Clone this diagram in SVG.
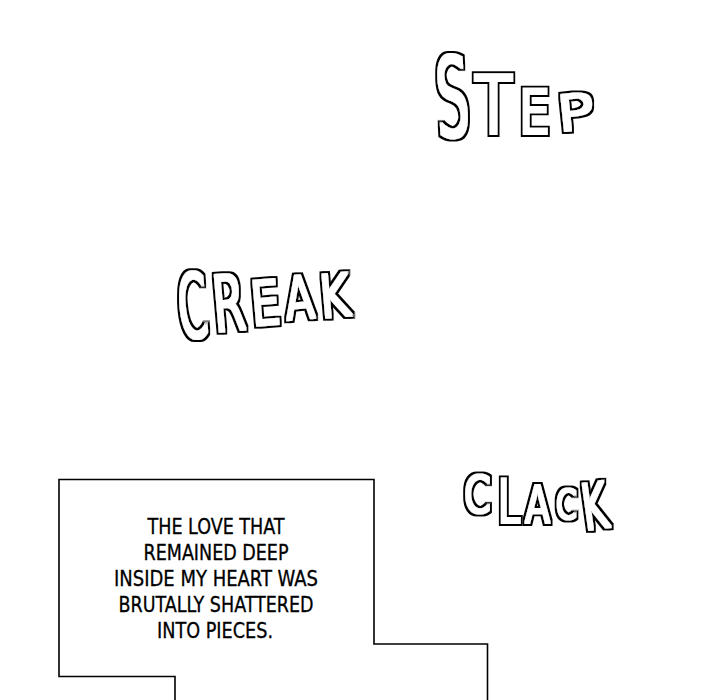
<svg xmlns="http://www.w3.org/2000/svg" width="720" height="700" viewBox="0 0 720 700">
<defs>
<filter id="tube" x="-10%" y="-10%" width="120%" height="120%">
<feMorphology in="SourceAlpha" operator="dilate" radius="2.8" result="outer"/>
<feMorphology in="SourceAlpha" operator="dilate" radius="1.3" result="inner"/>
<feFlood flood-color="#000" result="blk"/>
<feComposite in="blk" in2="outer" operator="in" result="o"/>
<feFlood flood-color="#fff" result="wht"/>
<feComposite in="wht" in2="inner" operator="in" result="i"/>
<feMerge><feMergeNode in="o"/><feMergeNode in="i"/></feMerge>
</filter>
</defs>
<style>
.sfx{filter:url(#tube)}
.sfx text{font-family:"DejaVu Sans",sans-serif;font-weight:normal;fill:#000}
.cap{font-family:"DejaVu Sans",sans-serif;font-stretch:condensed;font-size:22px;fill:#000;text-anchor:middle;stroke:#000;stroke-width:0.3}
</style>
<rect width="720" height="700" fill="#fff"/>
<g id="step" class="sfx">
<text font-size="52" transform="rotate(-3 453 100) translate(436,137) scale(1,2.15)">S</text>
<text font-size="60.6" transform="translate(475,134) scale(1,1.35)">T</text>
<text font-size="49" transform="translate(519,134) scale(1,1.265)">E</text>
<text font-size="61.4" transform="rotate(-6 574 112) translate(557,130) scale(1,0.81)">P</text>
</g>
<g id="creak" class="sfx">
<text font-size="41.5" transform="rotate(-5 194 305) translate(178,338) scale(1,2.17)">C</text>
<text font-size="46" transform="rotate(-5 229 305) translate(213,331) scale(1,1.7)">R</text>
<text font-size="45.9" transform="rotate(-5 265 305) translate(251,325) scale(1,1.35)">E</text>
<text font-size="42.4" transform="rotate(-5 300 300) translate(285,319) scale(1,1.415)">A</text>
<text font-size="45.7" transform="rotate(-5 334 298) translate(320,317) scale(1,1.31)">K</text>
</g>
<g id="clack" class="sfx">
<text font-size="38.7" transform="translate(464,513) scale(1,1.344)">C</text>
<text font-size="39.5" transform="translate(498,523) scale(1,1.52)">L</text>
<text font-size="36.5" transform="translate(525,523) scale(1,1.42)">A</text>
<text font-size="30.1" transform="translate(556,519) scale(1,1.33)">C</text>
<text font-size="38.1" transform="rotate(-8 594 505) translate(582,529) scale(1,1.68)">K</text>
</g>
<g id="caption-box">
<path d="M59,479.5 H374 V644 H487.5 V700 H175 V676.5 H59 Z" fill="#fff" stroke="none"/>
<path d="M175,700 V676.5 H59 V479.5 H374 V644 H487.5 V700" fill="none" stroke="#000" stroke-width="1.6"/>
<text class="cap" x="216" y="534" textLength="137" lengthAdjust="spacingAndGlyphs">THE LOVE THAT</text>
<text class="cap" x="216" y="560" textLength="145" lengthAdjust="spacingAndGlyphs">REMAINED DEEP</text>
<text class="cap" x="216" y="586" textLength="204" lengthAdjust="spacingAndGlyphs">INSIDE MY HEART WAS</text>
<text class="cap" x="216" y="612" textLength="195" lengthAdjust="spacingAndGlyphs">BRUTALLY SHATTERED</text>
<text class="cap" x="215" y="638" textLength="116" lengthAdjust="spacingAndGlyphs">INTO PIECES.</text>
</g>
</svg>
